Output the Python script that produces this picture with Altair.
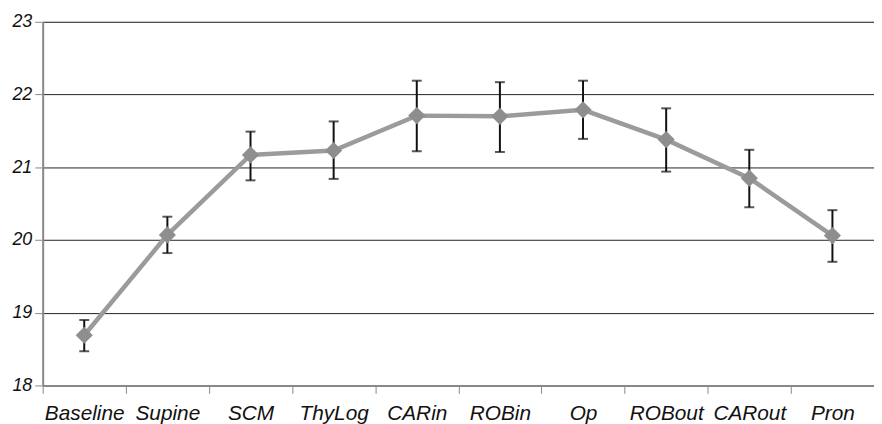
import altair as alt
import pandas as pd

categories = ["Baseline", "Supine", "SCM", "ThyLog", "CARin", "ROBin", "Op", "ROBout", "CARout", "Pron"]
means = [18.69, 20.07, 21.17, 21.23, 21.71, 21.70, 21.79, 21.38, 20.85, 20.06]
upper = [18.90, 20.32, 21.49, 21.63, 22.19, 22.17, 22.19, 21.81, 21.24, 20.41]
lower = [18.47, 19.82, 20.82, 20.84, 21.22, 21.21, 21.39, 20.94, 20.45, 19.70]
y_ticks = [18, 19, 20, 21, 22, 23]

df = pd.DataFrame({"cat": categories, "mean": means, "hi": upper, "lo": lower})

x = alt.X("cat:N", sort=categories, title=None,
          scale=alt.Scale(paddingInner=0, paddingOuter=0),
          axis=alt.Axis(labelAngle=0, tickBand="extent", grid=False, domainColor="#888888",
                        domainWidth=2, tickColor="#888888", tickWidth=1, tickSize=8,
                        labelFont="Liberation Sans", labelFontStyle="italic", labelFontSize=21,
                        labelColor="#111111", labelPadding=9))
yscale = alt.Scale(domain=[18, 23], nice=False, zero=False)
yaxis = alt.Axis(values=y_ticks, format="d", grid=True, gridColor="#222222", gridWidth=1,
                 domainColor="#888888", domainWidth=2, tickColor="#888888", tickSize=8,
                 labelFont="Liberation Sans", labelFontStyle="italic", labelFontSize=18,
                 labelColor="#111111", labelPadding=3, title=None)

base = alt.Chart(df)
line = base.mark_line(color="#9b9b9b", strokeWidth=4.5).encode(
    x=x, y=alt.Y("mean:Q", scale=yscale, axis=yaxis))
rule = base.mark_rule(color="#111111", strokeWidth=2).encode(
    x=x, y=alt.Y("lo:Q", scale=yscale), y2="hi:Q")
cap_hi = base.mark_tick(color="#111111", thickness=2, size=10, orient="horizontal").encode(
    x=x, y=alt.Y("hi:Q", scale=yscale))
cap_lo = base.mark_tick(color="#111111", thickness=2, size=10, orient="horizontal").encode(
    x=x, y=alt.Y("lo:Q", scale=yscale))
pts = base.mark_point(shape="diamond", filled=True, color="#8e8e8e", size=300, opacity=1).encode(
    x=x, y=alt.Y("mean:Q", scale=yscale))

chart = alt.layer(rule, cap_hi, cap_lo, line, pts).properties(
    width=839, height=367,
    autosize=alt.AutoSizeParams(type="none"),
    padding={"left": 35, "top": 12, "right": 0, "bottom": 37},
).configure_view(stroke=None).configure(background="white")

chart.save("out.html", embed_options={"renderer": "svg", "actions": False})
